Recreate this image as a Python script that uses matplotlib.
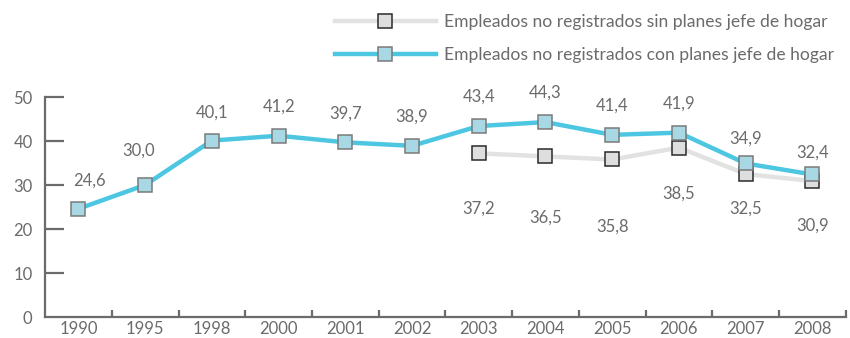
import numpy as np
import matplotlib.pyplot as plt
from matplotlib.lines import Line2D

plt.rcParams["font.family"] = ["Lato", "DejaVu Sans"]

years = ["1990", "1995", "1998", "2000", "2001", "2002",
         "2003", "2004", "2005", "2006", "2007", "2008"]
con_planes = [24.6, 30.0, 40.1, 41.2, 39.7, 38.9, 43.4, 44.3, 41.4, 41.9, 34.9, 32.4]
sin_years = ["2003", "2004", "2005", "2006", "2007", "2008"]
sin_planes = [37.2, 36.5, 35.8, 38.5, 32.5, 30.9]

# label offsets in points (above the blue line, below the grey one)
con_off = [(8, 20), (-5, 25), (0, 20), (0, 21), (0, 21), (0, 21),
           (0, 21), (0, 21), (0, 21), (0, 21), (0, 18), (0, 16)]
sin_off = [-40, -44, -48, -33, -25, -32]

blue = "#4dc6e2"
grey_line = "#e2e2e2"
text_c = "#6b6b6b"
axis_c = "#6b6b6b"

fig = plt.figure(figsize=(8.5, 3.38), dpi=100)
ax = fig.add_axes([0.053, 0.062, 0.942, 0.651])

x = np.arange(len(years))
xs = np.array([years.index(y) for y in sin_years])

ax.plot(xs, sin_planes, color=grey_line, lw=3.2, zorder=2,
        marker="s", ms=10, mfc="#dedede", mec="#2a2a2a", mew=1.1)
ax.plot(x, con_planes, color=blue, lw=3.2, zorder=3,
        marker="s", ms=10, mfc="#a8d8e4", mec="#7a7a7a", mew=1.1)

fmt = lambda v: f"{v:.1f}".replace(".", ",")
for xi, v, o in zip(x, con_planes, con_off):
    ax.annotate(fmt(v), (xi, v), xytext=o, textcoords="offset points",
                ha="center", va="center", fontsize=12, color=text_c)
for xi, v, o in zip(xs, sin_planes, sin_off):
    ax.annotate(fmt(v), (xi, v), xytext=(0, o), textcoords="offset points",
                ha="center", va="center", fontsize=12, color=text_c)

ax.set_xlim(-0.5, len(years) - 0.5)
ax.set_ylim(0, 50)
ax.set_yticks(range(0, 51, 10))
ax.set_xticks(x)
ax.set_xticklabels(years)
ax.set_xticks(np.arange(0.5, len(years), 1), minor=True)

for s in ["top", "right"]:
    ax.spines[s].set_visible(False)
for s in ["left", "bottom"]:
    ax.spines[s].set_color(axis_c)
    ax.spines[s].set_linewidth(1.6)

ax.tick_params(axis="y", direction="in", length=14, width=1.6, color=axis_c,
               labelsize=12, labelcolor=text_c, pad=9)
ax.tick_params(axis="x", which="major", length=0, labelsize=12,
               labelcolor=text_c, pad=3)
ax.tick_params(axis="x", which="minor", direction="in", length=5,
               width=1.6, color=axis_c)
ax.yaxis.get_major_ticks()[0].tick1line.set_visible(False)

handles = [
    Line2D([], [], color=grey_line, lw=3.2, marker="s", ms=10,
           mfc="#dedede", mec="#2a2a2a", mew=1.1),
    Line2D([], [], color=blue, lw=3.2, marker="s", ms=10,
           mfc="#a8d8e4", mec="#7a7a7a", mew=1.1),
]
labels = ["Empleados no registrados sin planes jefe de hogar",
          "Empleados no registrados con planes jefe de hogar"]
leg = fig.legend(handles, labels, loc="upper left", bbox_to_anchor=(0.375, 1.005),
                 frameon=False, fontsize=12.6, handlelength=5.8, handletextpad=0.45,
                 labelspacing=0.95, labelcolor=text_c, markerfirst=True)

fig.savefig("out.png", dpi=100)
